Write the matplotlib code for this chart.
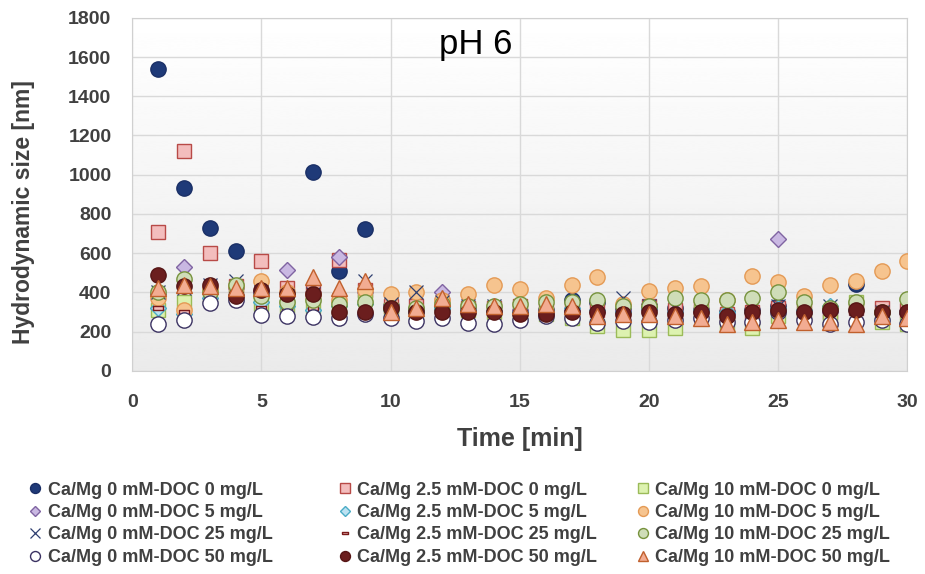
import numpy as np
import matplotlib
matplotlib.use("Agg")
import matplotlib.pyplot as plt
from matplotlib.lines import Line2D

plt.rcParams['font.family'] = ['Liberation Sans', 'DejaVu Sans']

time = list(range(1, 31))

# hydrodynamic size [nm] per sample, Ca/Mg concentration x DOC concentration
ca0_doc0 = [1540, 930, 730, 610, 400, 390, 1015, 510, 725, 330, 310, 320, 310, 300, 300,
            310, 360, 350, 310, 320, 320, 310, 300, 310, 330, 300, 310, 445, 300, 300]
ca25_doc0 = [710, 1120, 600, 430, 560, 420, 400, 565, 410, 330, 330, 340, 320, 320, 330,
             310, 320, 310, 300, 330, 310, 320, 290, 300, 320, 310, 300, 320, 320, 310]
ca10_doc0 = [310, 350, 380, 390, 340, 330, 330, 320, 370, 310, 300, 330, 310, 300, 290,
             290, 270, 230, 210, 210, 220, 300, 240, 220, 280, 290, 260, 350, 250, 240]
ca0_doc5 = [390, 530, 420, 420, 400, 515, 400, 580, 400, 330, 320, 400, 320, 300, 310,
            300, 310, 300, 310, 340, 300, 300, 290, 300, 670, 300, 300, 310, 300, 300]
ca25_doc5 = [320, 290, 370, 380, 350, 330, 310, 330, 340, 310, 300, 320, 310, 300, 300,
             300, 320, 310, 300, 320, 300, 310, 300, 300, 320, 310, 330, 310, 300, 300]
ca10_doc5 = [370, 310, 420, 430, 460, 400, 390, 360, 410, 390, 400, 360, 390, 440, 415,
             370, 435, 480, 340, 405, 420, 430, 360, 485, 455, 380, 440, 460, 510, 560]
ca0_doc25 = [400, 420, 440, 460, 400, 380, 390, 360, 460, 340, 400, 350, 330, 330, 320,
             330, 340, 330, 370, 330, 320, 330, 310, 320, 330, 320, 330, 320, 300, 320]
ca25_doc25 = [320, 300, 330, 340, 320, 310, 320, 330, 330, 300, 310, 320, 310, 300, 300,
              300, 310, 300, 300, 330, 300, 310, 290, 300, 320, 320, 310, 310, 320, 300]
ca10_doc25 = [400, 470, 400, 440, 380, 350, 360, 340, 350, 320, 320, 340, 330, 330, 340,
              350, 350, 360, 330, 330, 370, 360, 360, 370, 400, 350, 320, 350, 300, 365]
ca0_doc50 = [240, 260, 345, 360, 285, 280, 275, 270, 290, 270, 255, 270, 245, 240, 260,
             280, 270, 245, 255, 250, 260, 270, 250, 250, 300, 260, 240, 250, 260, 240]
ca25_doc50 = [490, 430, 440, 380, 410, 390, 390, 300, 300, 320, 300, 300, 300, 300, 290,
              290, 300, 300, 290, 300, 290, 300, 280, 300, 310, 300, 310, 310, 300, 300]
ca10_doc50 = [420, 440, 430, 420, 420, 420, 480, 420, 460, 300, 320, 370, 340, 330, 330,
              340, 330, 280, 290, 290, 280, 270, 240, 250, 260, 250, 250, 240, 280, 270]

rect = [(-1, -0.35), (1, -0.35), (1, 0.35), (-1, 0.35), (-1, -0.35)]

# drawn in workbook order so the last series sits on top
series = [
    ("Ca/Mg 0 mM-DOC 0 mg/L", ca0_doc0, dict(marker='o', ms=11, mfc='#1F3A78', mec='#1A2F66')),
    ("Ca/Mg 2.5 mM-DOC 0 mg/L", ca25_doc0, dict(marker='s', ms=10, mfc='#F3BDBD', mec='#B84A47')),
    ("Ca/Mg 10 mM-DOC 0 mg/L", ca10_doc0, dict(marker='s', ms=10, mfc='#DDF2B0', mec='#9BBB59')),
    ("Ca/Mg 0 mM-DOC 5 mg/L", ca0_doc5, dict(marker='D', ms=8, mfc='#C9B8E2', mec='#8064A2')),
    ("Ca/Mg 2.5 mM-DOC 5 mg/L", ca25_doc5, dict(marker='D', ms=8, mfc='#BCE2F2', mec='#4BACC6')),
    ("Ca/Mg 10 mM-DOC 5 mg/L", ca10_doc5, dict(marker='o', ms=11, mfc='#F6C48F', mec='#E49A55')),
    ("Ca/Mg 0 mM-DOC 25 mg/L", ca0_doc25, dict(marker='x', ms=10, mfc='none', mec='#2F3F70', mew=0.9)),
    ("Ca/Mg 2.5 mM-DOC 25 mg/L", ca25_doc25, dict(marker=rect, ms=7, mfc='#F3BDBD', mec='#7A1A1A')),
    ("Ca/Mg 10 mM-DOC 25 mg/L", ca10_doc25, dict(marker='o', ms=11, mfc='#CFDDB8', mec='#76923C')),
    ("Ca/Mg 0 mM-DOC 50 mg/L", ca0_doc50, dict(marker='o', ms=11, mfc='white', mec='#3B3262')),
    ("Ca/Mg 2.5 mM-DOC 50 mg/L", ca25_doc50, dict(marker='o', ms=11, mfc='#6B1E1E', mec='#561515')),
    ("Ca/Mg 10 mM-DOC 50 mg/L", ca10_doc50, dict(marker='^', ms=11.5, mfc='#F2AC92', mec='#C0602D')),
]

fig = plt.figure(figsize=(9.25, 5.74), dpi=100)
ax = fig.add_axes([0.143, 0.354, 0.838, 0.615])

# soft vertical shading of the plot area
grad = np.linspace(1.0, 0.92, 256).reshape(-1, 1)
ax.imshow(grad, cmap='gray', vmin=0, vmax=1, aspect='auto', extent=[0, 30, 0, 1800],
          zorder=0, interpolation='bicubic')

handles = []
for label, vals, st in series:
    st = dict(st)
    mew = st.pop('mew', 1.0)
    ax.plot(time, vals, linestyle='none', mew=mew, zorder=3, **st)
    handles.append(Line2D([], [], linestyle='none', mew=mew,
                          **{**st, 'ms': st['ms'] * 0.65}, label=label))

ax.set_xlim(0, 30)
ax.set_ylim(0, 1800)
ax.set_xticks(range(0, 31, 5))
ax.set_yticks(range(0, 1801, 200))
ax.grid(True, color='#D9D9D9', linewidth=1, zorder=1)
ax.set_axisbelow(True)
ax.tick_params(length=0, labelsize=14, labelcolor='#404040')
ax.tick_params(axis='y', pad=15)
ax.tick_params(axis='x', pad=17)
for lab in ax.get_xticklabels() + ax.get_yticklabels():
    lab.set_fontweight('bold')
for sp in ax.spines.values():
    sp.set_color('#D0D0D0')

ax.set_xlabel("Time [min]", fontsize=18, fontweight='bold', color='#404040')
ax.xaxis.set_label_coords(0.5, -0.16)
ax.set_ylabel("Hydrodynamic size [nm]", fontsize=16.5, fontweight='bold', color='#404040')
ax.yaxis.set_label_coords(-0.126, 0.45)
ax.text(0.443, 0.923, "pH 6", transform=ax.transAxes, fontsize=25, ha='center', va='center')

# one legend column per Ca/Mg level, DOC level down each column
col_x = [0.026, 0.361, 0.683]
for c in range(3):
    hs = handles[c::3]
    leg = fig.legend(hs, [h.get_label() for h in hs], loc='upper left',
                     bbox_to_anchor=(col_x[c], 0.161), frameon=False, borderpad=0,
                     borderaxespad=0,
                     prop={'weight': 'bold', 'size': 13},
                     handletextpad=0.1, labelspacing=0.3, handlelength=1.2)
    for t in leg.get_texts():
        t.set_color('#404040')

fig.savefig("out.png", dpi=100)
